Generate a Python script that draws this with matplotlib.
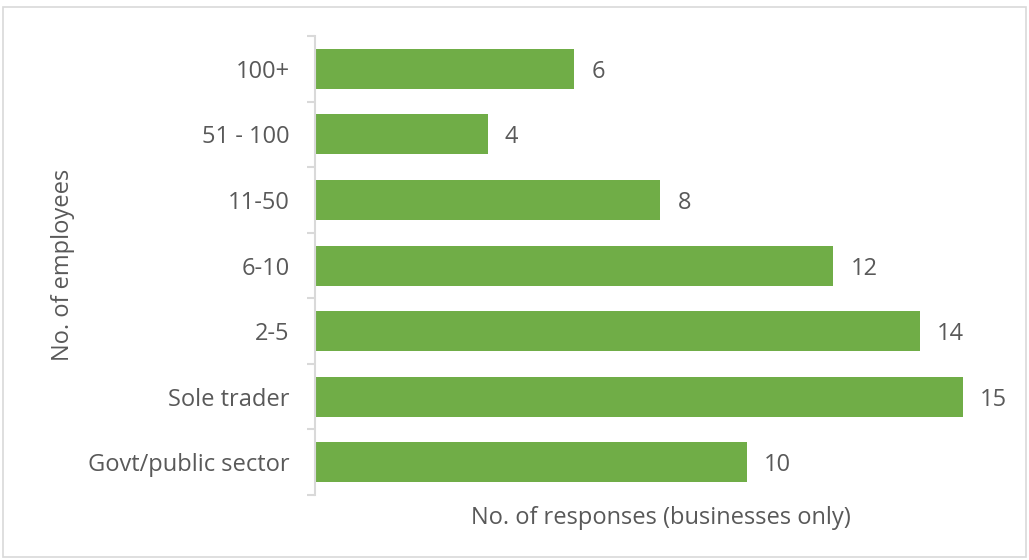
import numpy as np
import matplotlib
matplotlib.use('Agg')
import matplotlib.pyplot as plt
from matplotlib.patches import Rectangle

plt.rcParams['font.family'] = ['Open Sans', 'DejaVu Sans']

categories = ['100+', '51 - 100', '11-50', '6-10', '2-5', 'Sole trader', 'Govt/public sector']
values = [6, 4, 8, 12, 14, 15, 10]

green = '#70AD47'
txt = '#595959'
grey = '#D9D9D9'
fs = 17

fig = plt.figure(figsize=(10.29, 5.6), dpi=100)
ax = fig.add_axes([0.306, 0.116, 0.6716, 0.8196])

y = np.arange(len(categories))
ax.barh(y, values, height=0.61, color=green)
for yi, v in zip(y, values):
    ax.text(v + 0.4, yi, str(v), va='center_baseline', ha='left', fontsize=fs, color=txt)

ax.set_xlim(0, 16)
ax.set_ylim(len(categories) - 0.5, -0.5)

ax.set_yticks(y)
ax.set_yticklabels(categories, fontsize=fs, color=txt)
ax.tick_params(axis='y', which='major', length=0, pad=18)
ax.set_yticks(np.arange(-0.5, len(categories)), minor=True)
ax.tick_params(axis='y', which='minor', length=6, color=grey, width=1.5)
ax.set_xticks([])

for s in ['top', 'right', 'bottom']:
    ax.spines[s].set_visible(False)
ax.spines['left'].set_color(grey)
ax.spines['left'].set_linewidth(1.5)

ax.set_xlabel('No. of responses (businesses only)', fontsize=fs, color=txt, labelpad=8)
fig.text(0.061, 0.527, 'No. of employees', rotation=90, fontsize=fs, color=txt,
         ha='center', va='center')

fig.patches.append(Rectangle((0.003, 0.006), 0.994, 0.982, transform=fig.transFigure,
                             fill=False, edgecolor=grey, linewidth=1.2))

fig.savefig('out.png', dpi=100)
